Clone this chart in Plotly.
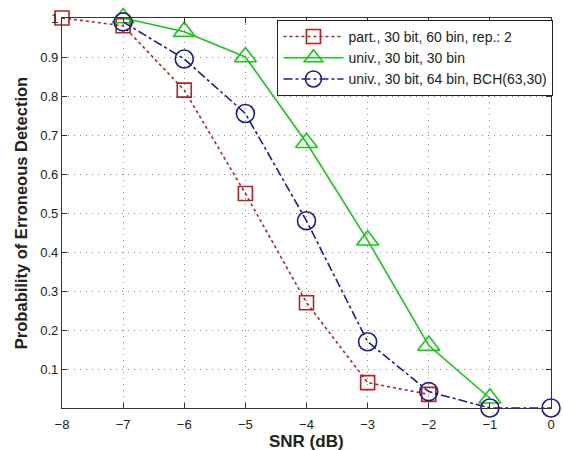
import plotly.graph_objects as go

snr_part = [-8, -7, -6, -5, -4, -3, -2]
p_part = [1.0, 0.98, 0.815, 0.55, 0.27, 0.065, 0.035]

snr_univ = [-7, -6, -5, -4, -3, -2, -1]
p_univ = [1.0, 0.965, 0.90, 0.68, 0.43, 0.16, 0.025]

snr_bch = [-7, -6, -5, -4, -3, -2, -1, 0]
p_bch = [0.99, 0.895, 0.755, 0.48, 0.17, 0.042, 0.0, 0.0]

x_ticks = [-8, -7, -6, -5, -4, -3, -2, -1, 0]
y_ticks = [0.1, 0.2, 0.3, 0.4, 0.5, 0.6, 0.7, 0.8, 0.9, 1.0]
y_tick_text = ["0.1", "0.2", "0.3", "0.4", "0.5", "0.6", "0.7", "0.8", "0.9", "1"]

names = ["part., 30 bit, 60 bin, rep.: 2", "univ., 30 bit, 30 bin",
         "univ., 30 bit, 64 bin, BCH(63,30)"]
x_title = "SNR (dB)"
y_title = "Probability of Erroneous Detection"

red = "#b22424"
green = "#12cc12"
blue = "#1c1c8c"

fig = go.Figure()
fig.add_trace(go.Scatter(x=snr_part, y=p_part, name=names[0], mode="lines+markers",
                         line=dict(color=red, width=1.6, dash="dot"),
                         marker=dict(symbol="square-open", size=14, color=red, line=dict(width=1.6)),
                         cliponaxis=False))
fig.add_trace(go.Scatter(x=snr_univ, y=p_univ, name=names[1], mode="lines+markers",
                         line=dict(color=green, width=1.6),
                         marker=dict(symbol="triangle-up-open", size=19, color=green, line=dict(width=1.6)),
                         cliponaxis=False))
fig.add_trace(go.Scatter(x=snr_bch, y=p_bch, name=names[2], mode="lines+markers",
                         line=dict(color=blue, width=1.6, dash="dashdot"),
                         marker=dict(symbol="circle-open", size=18, color=blue, line=dict(width=1.6)),
                         cliponaxis=False))

fig.update_layout(
    width=565, height=450,
    margin=dict(l=62, r=12, t=18, b=42),
    paper_bgcolor="white", plot_bgcolor="white",
    font=dict(family="Liberation Sans, Arial, sans-serif", size=13, color="#222"),
    legend=dict(x=1.005, xanchor="right", y=0.995, yanchor="top",
                bordercolor="#222", borderwidth=1, bgcolor="white",
                font=dict(size=14), tracegroupgap=0, itemwidth=60),
    showlegend=True,
)
fig.add_annotation(text="<b>" + x_title + "</b>", xref="paper", yref="paper",
                   x=0.5, y=-0.085, xanchor="center", yanchor="middle", showarrow=False,
                   font=dict(size=17, color="#222"))
fig.update_xaxes(range=[-8, 0], tickvals=x_ticks, showgrid=True, gridcolor="#888",
                 griddash="1px,5px", gridwidth=1, showline=True, linecolor="#333", linewidth=1.2,
                 mirror="ticks", ticks="inside", ticklen=5, tickcolor="#333", zeroline=False,
                 ticklabelstandoff=4, automargin=False)
fig.update_yaxes(range=[0, 1], tickvals=y_ticks, ticktext=y_tick_text, showgrid=True,
                 gridcolor="#888", griddash="1px,5px", gridwidth=1, showline=True, linecolor="#333",
                 linewidth=1.2, mirror="ticks", ticks="inside", ticklen=5, tickcolor="#333",
                 zeroline=False, automargin=False,
                 title=dict(text="<b>" + y_title + "</b>", font=dict(size=16.5), standoff=8))

fig.write_html("out.html")
